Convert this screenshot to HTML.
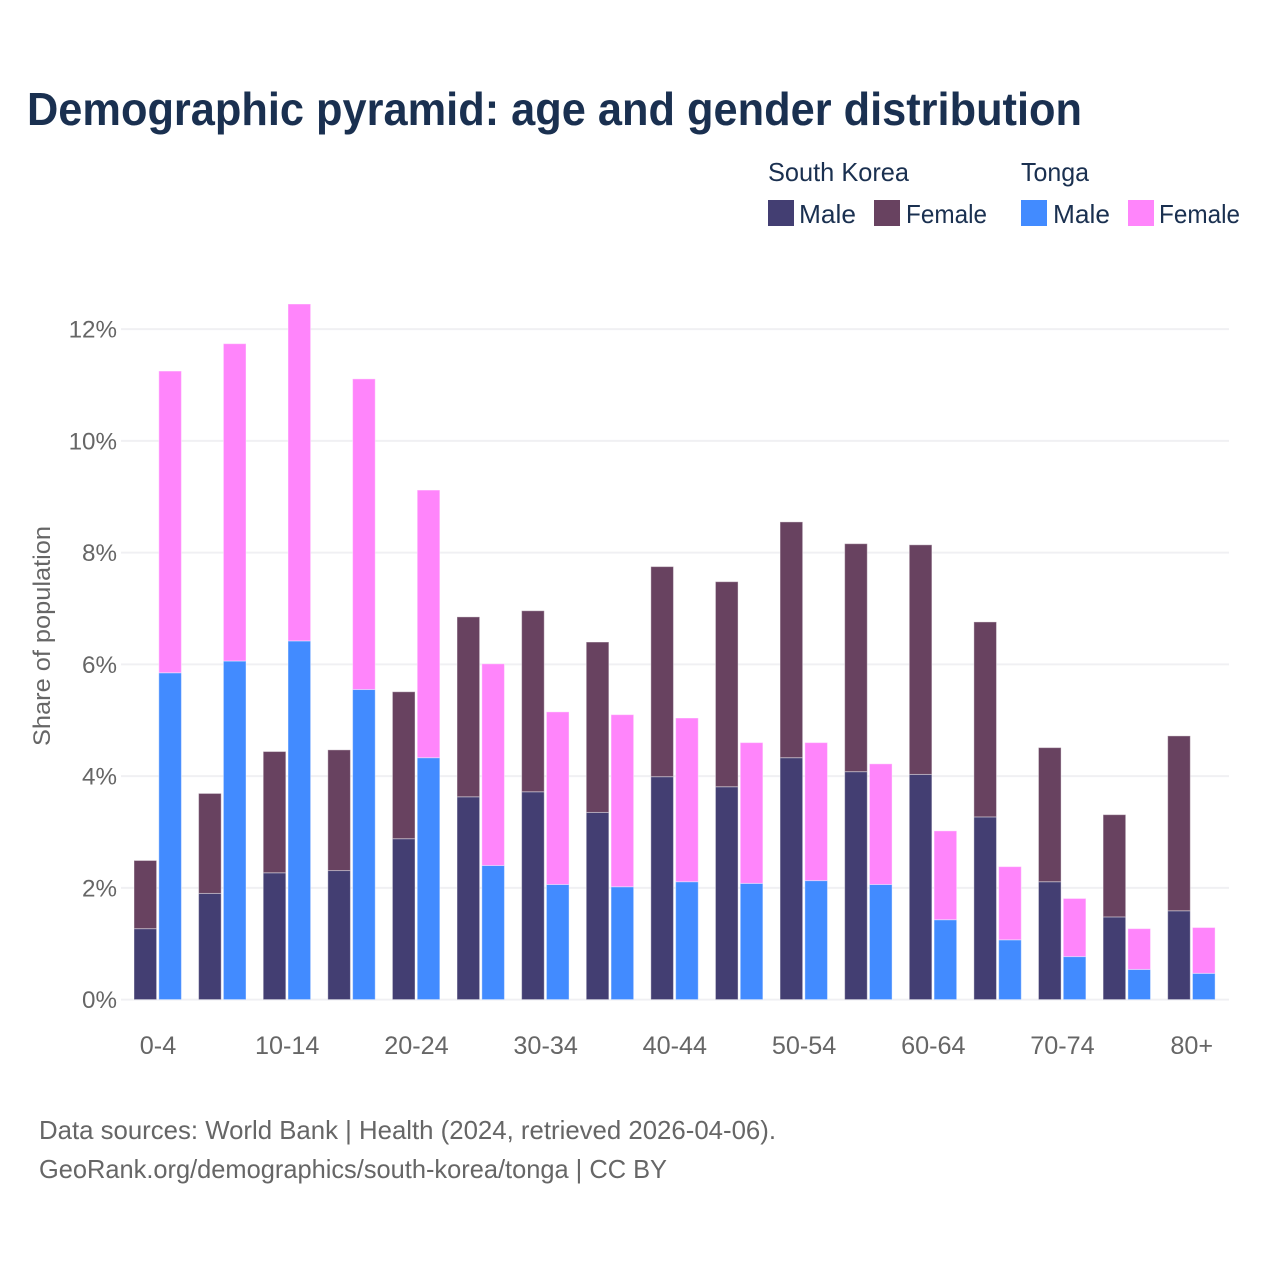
<!DOCTYPE html>
<html lang="en">
<head>
<meta charset="utf-8">
<title>Demographic pyramid: age and gender distribution</title>
<style>
html,body{margin:0;padding:0;background:#fff;width:1280px;height:1280px;overflow:hidden}
svg{display:block;font-family:"Liberation Sans",Arial,sans-serif}
</style>
</head>
<body>
<svg id="chart" width="1280" height="1280" viewBox="0 0 1280 1280" xmlns="http://www.w3.org/2000/svg">
<rect x="0" y="0" width="1280" height="1280" fill="#ffffff"/>
<text x="27" y="125" font-size="46" font-weight="700" fill="#1a3050" textLength="1055" lengthAdjust="spacingAndGlyphs">Demographic pyramid: age and gender distribution</text>
<g font-size="26" fill="#1a3050">
<text x="768" y="181" textLength="141" lengthAdjust="spacingAndGlyphs">South Korea</text>
<text x="1021" y="181" textLength="68" lengthAdjust="spacingAndGlyphs">Tonga</text>
<rect x="768" y="200" width="26" height="26" fill="#433e72"/>
<text x="799" y="223" textLength="57" lengthAdjust="spacingAndGlyphs">Male</text>
<rect x="874" y="200" width="26" height="26" fill="#684260"/>
<text x="906" y="223" textLength="81" lengthAdjust="spacingAndGlyphs">Female</text>
<rect x="1021" y="200" width="26" height="26" fill="#428bff"/>
<text x="1053" y="223" textLength="57" lengthAdjust="spacingAndGlyphs">Male</text>
<rect x="1128" y="200" width="26" height="26" fill="#ff85fb"/>
<text x="1159" y="223" textLength="81" lengthAdjust="spacingAndGlyphs">Female</text>
</g>
<g id="grid"></g>
<g id="yticks"></g>
<g id="bars"></g>
<g id="xticks"></g>
<text transform="translate(50,636) rotate(-90)" text-anchor="middle" font-size="24" fill="#666666" textLength="220" lengthAdjust="spacingAndGlyphs">Share of population</text>
<text x="39" y="1139" font-size="26" fill="#666666" textLength="737" lengthAdjust="spacingAndGlyphs">Data sources: World Bank | Health (2024, retrieved 2026-04-06).</text>
<text x="39" y="1178" font-size="26" fill="#666666" textLength="628" lengthAdjust="spacingAndGlyphs">GeoRank.org/demographics/south-korea/tonga | CC BY</text>
</svg>
<script>
const categories = ["0-4","5-9","10-14","15-19","20-24","25-29","30-34","35-39","40-44","45-49","50-54","55-59","60-64","65-69","70-74","75-79","80+"];
const southKoreaMale = [1.27,1.90,2.27,2.31,2.88,3.63,3.72,3.35,3.99,3.81,4.33,4.08,4.03,3.27,2.11,1.48,1.59];
const southKoreaFemale = [1.22,1.79,2.17,2.16,2.63,3.22,3.24,3.05,3.76,3.67,4.22,4.08,4.11,3.49,2.40,1.83,3.13];
const tongaMale = [5.85,6.06,6.42,5.55,4.33,2.40,2.06,2.02,2.11,2.08,2.13,2.06,1.43,1.07,0.77,0.54,0.47];
const tongaFemale = [5.40,5.68,6.03,5.56,4.79,3.61,3.09,3.08,2.93,2.52,2.47,2.16,1.59,1.31,1.04,0.73,0.82];
const yTicks = [0,2,4,6,8,10,12];

const NS = "http://www.w3.org/2000/svg";
const plotLeft = 125.7, plotRight = 1224, plotBottom = 999.6, unit = 55.87;
const band = (plotRight - plotLeft) / categories.length;
const barWidth = 22.6;
function yScale(v){ return plotBottom - v * unit; }
function xCenter(i){ return plotLeft + band * (i + 0.5); }
function make(tag, attrs, parent){
  const el = document.createElementNS(NS, tag);
  for (const k in attrs) el.setAttribute(k, attrs[k]);
  parent.appendChild(el);
  return el;
}
const grid = document.getElementById("grid");
const yticks = document.getElementById("yticks");
const xticks = document.getElementById("xticks");
const bars = document.getElementById("bars");

yTicks.forEach(function(t){
  const line = make("line", {x1:121, x2:1229, y1:yScale(t), y2:yScale(t), stroke:"#f0f0f3", "stroke-width":2}, grid);
  
  
  const label = make("text", {x:117, y:yScale(t)+8.5, "text-anchor":"end", "font-size":24.2, fill:"#666666"}, yticks);
  
  
  label.textContent = t + "%";
});

categories.forEach(function(c, i){
  if (i % 2 === 0) {
    const label = make("text", {x:xCenter(i), y:1054, "text-anchor":"middle", "font-size":25.2, fill:"#666666"}, xticks);
    
    
    label.textContent = c;
  }
});

function drawBar(x, base, value, fill){
  const y0 = yScale(base), y1 = yScale(base + value);
  const r = make("rect", {x:x, y:y1, width:barWidth, height:y0 - y1, fill:fill, stroke:"#ffffff", "stroke-opacity":0.4, "stroke-width":1}, bars);
  
  
}
categories.forEach(function(c, i){
  const cx = xCenter(i);
  const leftX = cx - 24, rightX = cx + 0.8;
  drawBar(leftX, 0, southKoreaMale[i], "#433e72");
  drawBar(leftX, southKoreaMale[i], southKoreaFemale[i], "#684260");
  drawBar(rightX, 0, tongaMale[i], "#428bff");
  drawBar(rightX, tongaMale[i], tongaFemale[i], "#ff85fb");
});
</script>
</body>
</html>
